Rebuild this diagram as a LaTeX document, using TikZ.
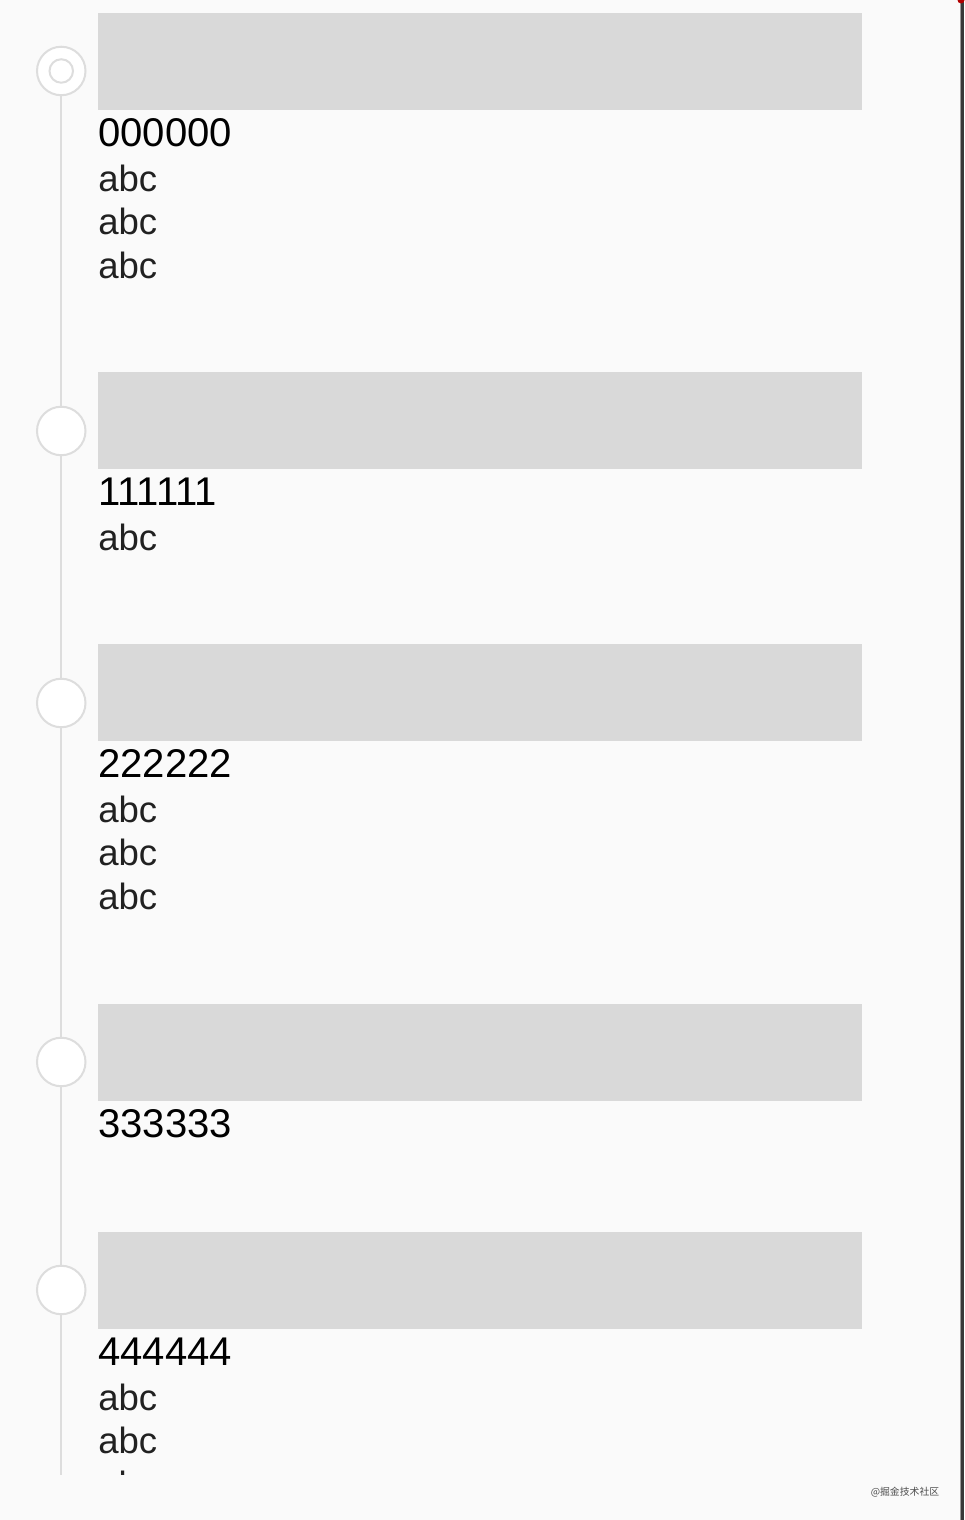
\documentclass[tikz,border=0pt]{standalone}
\usepackage{fontspec}
\setmainfont{Liberation Sans}
\newfontfamily\cjkfont{Noto Sans CJK SC}
\usepackage{tikz}
\usetikzlibrary{positioning}
\definecolor{pagebg}{HTML}{FAFAFA}
\definecolor{cardgray}{HTML}{D9D9D9}
\definecolor{railgray}{HTML}{DDDDDD}
\definecolor{textdark}{HTML}{212121}

\begin{document}
\begin{tikzpicture}[
	card/.style={fill=cardgray, anchor=north west, minimum width=15.28cm, minimum height=1.94cm, inner sep=0pt, outer sep=0pt},
	dot/.style={circle, draw=railgray, fill=white, line width=0.04cm, minimum size=0.97cm, inner sep=0pt},
	ring/.style={circle, draw=railgray, line width=0.04cm, minimum size=0.47cm, inner sep=0pt},
	title/.style={anchor=base west, inner sep=0pt, text=black, font=\fontsize{22.8pt}{27pt}\selectfont},
	item/.style={anchor=base west, inner sep=0pt, text=textdark, font=\fontsize{20.8pt}{25pt}\selectfont},
	rail/.style={draw=railgray, line width=0.04cm}
]
	\useasboundingbox (0,0) rectangle (19.28,30.4);
	\fill[pagebg] (0,0) rectangle (19.28,30.4);

	% Screen edge on the right
	\fill[black!40] (19.19,0) rectangle (19.21,30.4);
	\fill[black!78] (19.21,0) rectangle (19.28,30.4);
	\fill[red!70!black] (19.22,30.4) circle (0.07);

	\begin{scope}
	\clip (0,0.9) rectangle (19.19,30.4);

	% Timeline dots, the first one marked as current
	\node[dot] (dot0) at (1.225,28.98) {};
	\node[ring] (ring0) at (dot0.center) {};
	\node[dot] (dot1) at (1.225,21.78) {};
	\node[dot] (dot2) at (1.225,16.34) {};
	\node[dot] (dot3) at (1.225,9.16) {};
	\node[dot] (dot4) at (1.225,4.6) {};
	\coordinate (railend) at (1.225,0.9);
	\draw[rail] (dot0) -- (dot1) -- (dot2) -- (dot3) -- (dot4) -- (railend);

	% Gray image placeholders
	\node[card] (card0) at (1.96,30.14) {};
	\node[card] (card1) at (1.96,22.96) {};
	\node[card] (card2) at (1.96,17.52) {};
	\node[card] (card3) at (1.96,10.32) {};
	\node[card] (card4) at (1.96,5.76) {};

	% Entry texts below each placeholder
	\node[title] (num0) at (1.96,27.46) {000000};
	\node[item] (txt0a) at (1.96,26.57) {abc};
	\node[item] (txt0b) at (1.96,25.70) {abc};
	\node[item] (txt0c) at (1.96,24.83) {abc};

	\node[title] (num1) at (1.96,20.28) {111111};
	\node[item] (txt1a) at (1.96,19.39) {abc};

	\node[title] (num2) at (1.96,14.84) {222222};
	\node[item] (txt2a) at (1.96,13.95) {abc};
	\node[item] (txt2b) at (1.96,13.08) {abc};
	\node[item] (txt2c) at (1.96,12.21) {abc};

	\node[title] (num3) at (1.96,7.64) {333333};

	\node[title] (num4) at (1.96,3.08) {444444};
	\node[item] (txt4a) at (1.96,2.19) {abc};
	\node[item] (txt4b) at (1.96,1.32) {abc};
	\node[item] (txt4c) at (1.96,0.45) {abc};
	\end{scope}

	% Watermark
	\node[inner sep=0pt, text=black!70, font=\cjkfont\fontsize{5.6pt}{6pt}\selectfont] (mark) at (18.1,0.55) {@掘金技术社区};
\end{tikzpicture}
\end{document}
